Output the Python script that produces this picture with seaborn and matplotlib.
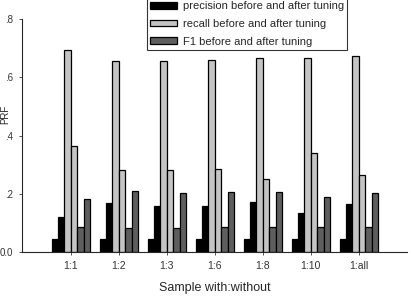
import pandas as pd
import numpy as np
import matplotlib
matplotlib.use("Agg")
import matplotlib.pyplot as plt
import seaborn as sns
from matplotlib.patches import Patch

# ---- data -------------------------------------------------------
samples = ["1:1", "1:2", "1:3", "1:6", "1:8", "1:10", "1:all"]
precision_before = [0.046, 0.046, 0.046, 0.046, 0.046, 0.047, 0.047]
precision_after = [0.120, 0.168, 0.159, 0.160, 0.173, 0.134, 0.164]
recall_before = [0.693, 0.658, 0.657, 0.659, 0.666, 0.666, 0.673]
recall_after = [0.365, 0.282, 0.282, 0.284, 0.253, 0.340, 0.264]
f1_before = [0.085, 0.084, 0.082, 0.085, 0.085, 0.085, 0.085]
f1_after = [0.182, 0.209, 0.203, 0.205, 0.205, 0.191, 0.203]
series_names = ["P before", "P after", "R before", "R after", "F1 before", "F1 after"]
legend_labels = ["precision before and after tuning",
                 "recall before and after tuning",
                 "F1 before and after tuning"]
ytick_labels = ["0.0", ".2", ".4", ".6", ".8"]

# long format for seaborn
series = [precision_before, precision_after, recall_before, recall_after, f1_before, f1_after]
rows = []
for name, vals in zip(series_names, series):
    for s, v in zip(samples, vals):
        rows.append({"sample": s, "series": name, "value": v})
df = pd.DataFrame(rows)

black, light, dark = "#000000", "#c4c4c4", "#5e5e5e"
palette = dict(zip(series_names, [black, black, light, light, dark, dark]))

sns.set_style("ticks")
plt.rcParams["font.family"] = ["Liberation Sans", "DejaVu Sans"]

fig = plt.figure(figsize=(4.11, 2.96), dpi=100)
ax = fig.add_axes([0.053, 0.148, 0.937, 0.787])

sns.barplot(data=df, x="sample", y="value", hue="series", order=samples,
            hue_order=series_names, palette=palette, width=0.8,
            edgecolor="black", linewidth=0.9, saturation=1, legend=False, ax=ax)

ax.set_xlim(-1.02, 7.0)
ax.set_ylim(0, 0.8)
ax.set_yticks([0, 0.2, 0.4, 0.6, 0.8])
ax.set_yticklabels(ytick_labels)
ax.tick_params(axis="both", colors="#333333", length=2.2, width=0.6)
ax.tick_params(axis="x", labelsize=7.5, pad=4)
ax.tick_params(axis="y", labelsize=7, pad=4)
ax.set_xlabel("Sample with:without", fontsize=9, labelpad=8)
ax.set_ylabel("PRF", fontsize=7)
ax.yaxis.set_label_coords(-0.031, 0.59)
sns.despine(ax=ax)
for sp in ["left", "bottom"]:
    ax.spines[sp].set_linewidth(0.8)

handles = [Patch(facecolor=c, edgecolor="black", linewidth=0.9) for c in [black, light, dark]]
leg = fig.legend(handles, legend_labels, loc="lower left",
                 bbox_to_anchor=(147 / 411, 1 - 50 / 296), borderaxespad=0,
                 fontsize=8, frameon=True, fancybox=False, handlelength=2.4,
                 handleheight=0.55, labelspacing=0.69, borderpad=0.3,
                 handletextpad=0.5)
leg.get_frame().set_edgecolor("black")
leg.get_frame().set_linewidth(0.8)

fig.savefig("out.png", dpi=100)
